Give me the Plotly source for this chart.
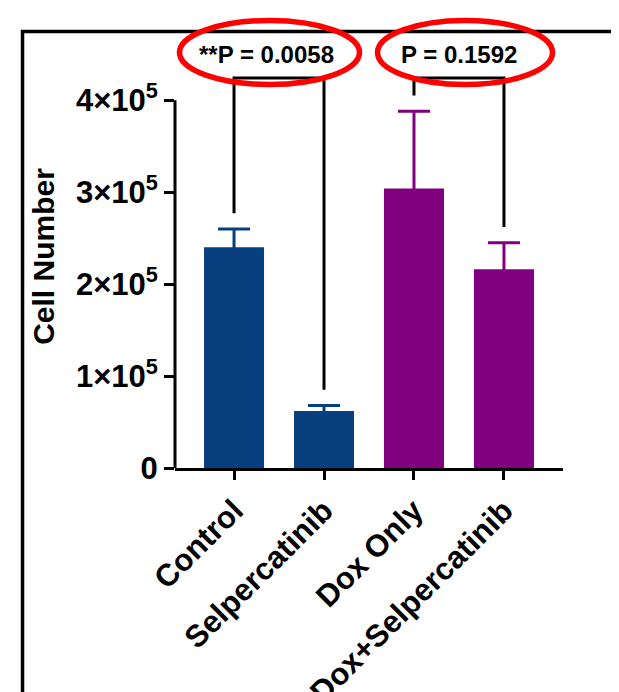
import plotly.graph_objects as go

# ---- data ----
categories = ["Control", "Selpercatinib", "Dox Only", "Dox+Selpercatinib"]
means = [2.40e5, 0.62e5, 3.04e5, 2.16e5]
sem = [0.20e5, 0.06e5, 0.84e5, 0.29e5]
bar_colors = ["#083F7E", "#083F7E", "#800080", "#800080"]

y_tickvals = [0, 1e5, 2e5, 3e5, 4e5]
y_ticktext = ["0", "1×10<sup>5</sup>", "2×10<sup>5</sup>", "3×10<sup>5</sup>", "4×10<sup>5</sup>"]

comparisons = [(0, 1, "**P = 0.0058"), (2, 3, "P = 0.1592")]
bracket_level = 4.24e5
bracket_gap = 0.17e5

FONT = "Liberation Sans, Arial, sans-serif"
x_range = [-0.656, 3.656]
y_range = [0, 4.6e5]

fig = go.Figure()
for i, cat in enumerate(categories):
    fig.add_trace(go.Bar(
        x=[cat], y=[means[i]],
        marker=dict(color=bar_colors[i], line=dict(width=0)),
        width=0.667,
        error_y=dict(type="data", array=[sem[i]], symmetric=True,
                     thickness=3, width=16, color=bar_colors[i]),
        showlegend=False,
    ))

shapes = []
# brackets
for a, b, label in comparisons:
    ya = means[a] + sem[a] + bracket_gap
    yb = means[b] + sem[b] + bracket_gap
    shapes.append(dict(type="path", xref="x", yref="y",
                       path=f"M {a},{ya} L {a},{bracket_level} L {b},{bracket_level} L {b},{yb}",
                       line=dict(color="black", width=3)))

# y axis line only spanning 0..4e5
shapes.append(dict(type="line", xref="paper", yref="y", x0=0, x1=0,
                   y0=y_tickvals[0], y1=y_tickvals[-1], line=dict(color="black", width=3)))

# outer frame
shapes.append(dict(type="rect", xref="paper", yref="paper", x0=-0.393, x1=1.4, y0=-0.8, y1=1.032,
                   line=dict(color="black", width=3.5), fillcolor="rgba(0,0,0,0)"))

# red ellipses
shapes.append(dict(type="circle", xref="paper", yref="paper", x0=0.0116, x1=0.4755, y0=0.9066, y1=1.058,
                   line=dict(color="#FF0000", width=5.5)))
shapes.append(dict(type="circle", xref="paper", yref="paper", x0=0.522, x1=0.973, y0=0.9066, y1=1.058,
                   line=dict(color="#FF0000", width=5.5)))

annotations = []
for a, b, label in comparisons:
    xs = -13 if label.startswith("*") else 0
    annotations.append(dict(x=(a + b) / 2, y=bracket_level, xref="x", yref="y", text=label,
                            showarrow=False, yanchor="bottom", yshift=8, xshift=xs,
                            font=dict(family=FONT, size=24, color="black", weight="bold")))

fig.update_layout(
    width=619, height=692,
    margin=dict(l=167, r=64, t=37, b=232),
    paper_bgcolor="white", plot_bgcolor="white",
    shapes=shapes, annotations=annotations,
    barmode="overlay",
    xaxis=dict(range=x_range, showline=True, linecolor="black", linewidth=3,
               ticks="outside", ticklen=9, tickwidth=3, tickcolor="black",
               tickangle=-45, showgrid=False, zeroline=False, automargin=False,
               categoryorder="array", categoryarray=categories,
               tickfont=dict(family=FONT, size=31, color="black", weight="bold")),
    yaxis=dict(range=y_range, showline=False, tickvals=y_tickvals, ticktext=y_ticktext,
               ticks="outside", ticklen=10, tickwidth=3, tickcolor="black",
               showgrid=False, zeroline=False, automargin=False,
               tickfont=dict(family=FONT, size=31, color="black", weight="bold"),
               title=dict(text="Cell Number", standoff=12,
                          font=dict(family=FONT, size=30, color="black", weight="bold"))),
)

fig.write_html("out.html")
